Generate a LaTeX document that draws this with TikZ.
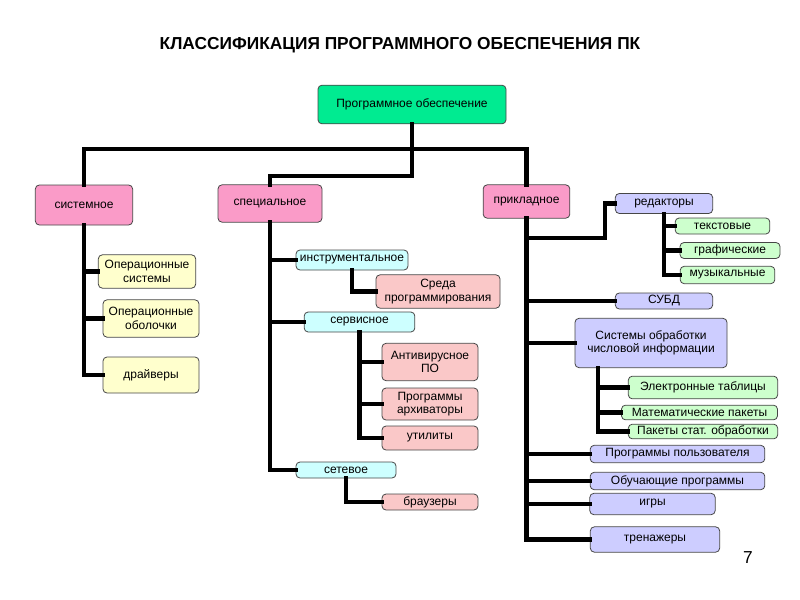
\documentclass[tikz,border=0pt]{standalone}
\usepackage{fontspec}
\setmainfont{Liberation Sans}
\definecolor{rootgreen}{RGB}{0,235,145}
\definecolor{pinkbox}{RGB}{250,155,200}
\definecolor{salmonbox}{RGB}{250,200,200}
\definecolor{cyanbox}{RGB}{205,255,255}
\definecolor{yellowbox}{RGB}{255,255,205}
\definecolor{lavbox}{RGB}{205,205,255}
\definecolor{greenbox}{RGB}{205,255,205}
\tikzset{every picture/.style={line width=0.75pt}}
\tikzset{
  box/.style={draw={rgb,255:red,70;green,70;blue,70}, rounded corners=3pt, inner sep=0.75pt,
    align=center, font=\fontsize{9}{10}\selectfont, line width=0.6pt},
  branch/.style={line width=3.4pt, line cap=rect}
}
\begin{document}
\begin{tikzpicture}[x=0.75pt,y=0.75pt,yscale=-1,xscale=1]
\useasboundingbox (0,0) rectangle (800,600);

% Title
\node (title) at (400,45) [font=\fontsize{13}{15}\selectfont\bfseries] {КЛАССИФИКАЦИЯ ПРОГРАММНОГО ОБЕСПЕЧЕНИЯ ПК};

% Level 1
\node (root) at (412,104.5) [box, fill=rootgreen, minimum width=141pt, minimum height=29pt] {Программное обеспечение};
\node (sys) at (84,205) [box, fill=pinkbox, minimum width=73pt, minimum height=30pt] {системное};
\node (spec) at (270,203.5) [box, fill=pinkbox, minimum width=78pt, minimum height=28pt] {специальное};
\node (prk) at (526.5,201.5) [box, fill=pinkbox, minimum width=65pt, minimum height=25pt] {прикладное};

% System branch
\node (os) at (147,271.5) [box, fill=yellowbox, minimum width=73pt, minimum height=25pt] {Операционные\\системы};
\node (shell) at (151,318.5) [box, fill=yellowbox, minimum width=72pt, minimum height=28pt] {Операционные\\оболочки};
\node (drv) at (151,375) [box, fill=yellowbox, minimum width=72pt, minimum height=27pt] {драйверы};

% Special branch
\node (instr) at (352,260) [box, fill=cyanbox, minimum width=84pt, minimum height=15pt] {инструментальное};
\node (ide) at (438,291.5) [box, fill=salmonbox, minimum width=93pt, minimum height=25pt] {Среда\\программирования};
\node (serv) at (359.5,322) [box, fill=cyanbox, minimum width=83pt, minimum height=15pt] {сервисное};
\node (av) at (430,362) [box, fill=salmonbox, minimum width=72pt, minimum height=28pt] {Антивирусное\\ПО};
\node (arch) at (430,404) [box, fill=salmonbox, minimum width=72pt, minimum height=24pt] {Программы\\архиваторы};
\node (util) at (430,438) [box, fill=salmonbox, minimum width=72pt, minimum height=18pt] {утилиты};
\node (net) at (346,470) [box, fill=cyanbox, minimum width=75pt, minimum height=12pt] {сетевое};
\node (brw) at (430,502) [box, fill=salmonbox, minimum width=72pt, minimum height=12pt] {браузеры};

% Applied branch
\node (edit) at (664,203.5) [box, fill=lavbox, minimum width=73pt, minimum height=15pt] {редакторы};
\node (txt) at (722.5,226) [box, fill=greenbox, minimum width=71pt, minimum height=12pt] {текстовые};
\node (gfx) at (730,250.5) [box, fill=greenbox, minimum width=75pt, minimum height=12pt] {графические};
\node (mus) at (727.5,275) [box, fill=greenbox, minimum width=71pt, minimum height=13pt] {музыкальные};
\node (dbms) at (664,301) [box, fill=lavbox, minimum width=73pt, minimum height=12pt] {СУБД};
\node (num) at (651,343) [box, fill=lavbox, minimum width=114pt, minimum height=37pt] {Системы обработки\\числовой информации};
\node (sheet) at (703,387.5) [box, fill=greenbox, minimum width=112pt, minimum height=17pt] {Электронные таблицы};
\node (math) at (699.5,412.5) [box, fill=greenbox, minimum width=117pt, minimum height=11pt] {Математические пакеты};
\node (stat) at (703,431.5) [box, fill=greenbox, minimum width=112pt, minimum height=11pt] {Пакеты стат. обработки};
\node (user) at (677.5,454) [box, fill=lavbox, minimum width=131pt, minimum height=13pt] {Программы пользователя};
\node (edu) at (677.5,481) [box, fill=lavbox, minimum width=131pt, minimum height=13pt] {Обучающие программы};
\node (game) at (652.5,504) [box, fill=lavbox, minimum width=94pt, minimum height=16pt] {игры};
\node (trn) at (655,539.5) [box, fill=lavbox, minimum width=97pt, minimum height=19pt] {тренажеры};

% Page number
\node (page) at (748,558) [font=\fontsize{13}{15}\selectfont] {7};

% Top-level connectors
\coordinate (split) at (412,149);
\coordinate (splitb) at (412,176);
\draw [branch] (root.south) -- (splitb) -| (spec.north);
\draw [branch] (sys.north) |- (split) -| (prk.north);

% System connectors
\draw [branch] (sys.south) |- (drv.west);
\draw [branch] (sys.south |- os.west) -- (os.west);
\draw [branch] (sys.south |- shell.west) -- (shell.west);

% Special connectors
\draw [branch] (spec.south) |- (net.west);
\draw [branch] (spec.south |- instr.west) -- (instr.west);
\draw [branch] (spec.south |- serv.west) -- (serv.west);
\draw [branch] (instr.south) |- (ide.west);
\draw [branch] (serv.south) |- (util.west);
\draw [branch] (serv.south |- av.west) -- (av.west);
\draw [branch] (serv.south |- arch.west) -- (arch.west);
\draw [branch] (net.south) |- (brw.west);

% Applied connectors
\coordinate (editx) at (605,238);
\draw [branch] (prk.south) |- (trn.west);
\draw [branch] (prk.south |- editx) -- (editx) |- (edit.west);
\draw [branch] (edit.south) |- (mus.west);
\draw [branch] (edit.south |- txt.west) -- (txt.west);
\draw [branch] (edit.south |- gfx.west) -- (gfx.west);
\draw [branch] (prk.south |- dbms.west) -- (dbms.west);
\draw [branch] (prk.south |- num.west) -- (num.west);
\coordinate (numx) at (598,368);
\draw [branch] (numx) |- (stat.west);
\draw [branch] (numx |- sheet.west) -- (sheet.west);
\draw [branch] (numx |- math.west) -- (math.west);
\draw [branch] (prk.south |- user.west) -- (user.west);
\draw [branch] (prk.south |- edu.west) -- (edu.west);
\draw [branch] (prk.south |- game.west) -- (game.west);
\end{tikzpicture}
\end{document}
